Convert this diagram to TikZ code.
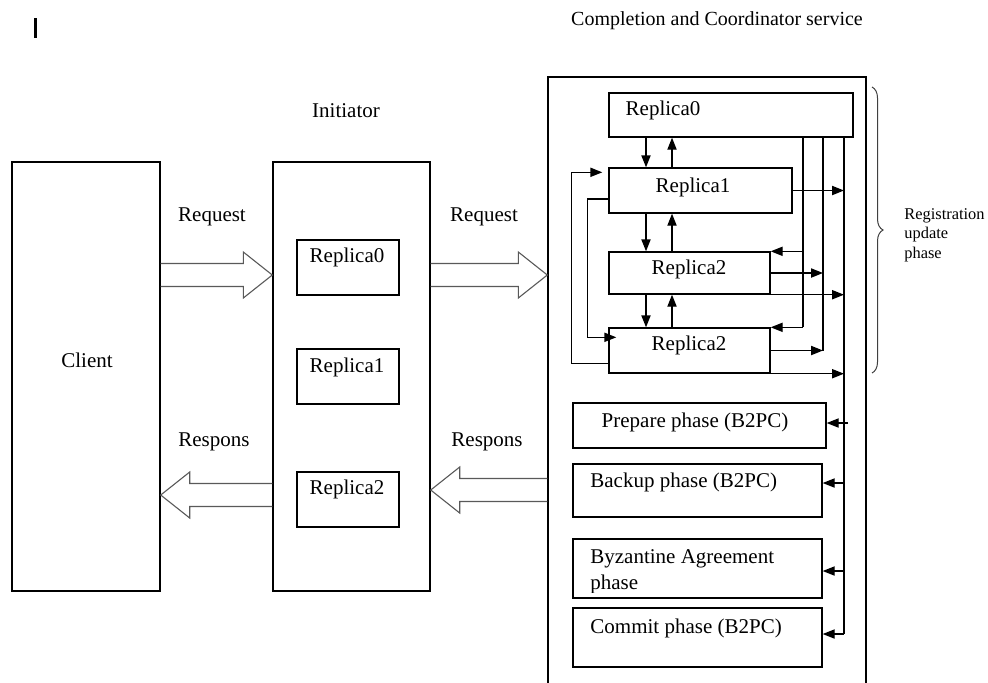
\documentclass[tikz,border=0pt]{standalone}
\usepackage{fontspec}
\setmainfont{Liberation Serif}
\usetikzlibrary{arrows.meta,calc,fit,decorations.pathreplacing}

% hollow block arrows: #1 = tail point, #2 = tip point
\newcommand\fatright[2]{%
  \draw[fat] ($(#1)+(0,-11.5)$) -- ($(#2)+(-29,-11.5)$) -- ($(#2)+(-29,-23)$)
    -- (#2) -- ($(#2)+(-29,23)$) -- ($(#2)+(-29,11.5)$) -- ($(#1)+(0,11.5)$);}
\newcommand\fatleft[2]{%
  \draw[fat] ($(#1)+(0,-11.5)$) -- ($(#2)+(29,-11.5)$) -- ($(#2)+(29,-23)$)
    -- (#2) -- ($(#2)+(29,23)$) -- ($(#2)+(29,11.5)$) -- ($(#1)+(0,11.5)$);}

\begin{document}
\begin{tikzpicture}[x=0.5pt,y=-0.5pt,
  box/.style={draw,line width=0.7pt,inner sep=0pt},
  lbl/.style={inner sep=0pt,font=\fontsize{10.5}{12.5}\selectfont},
  wire/.style={line width=0.7pt},
  arr/.style={wire,-{Triangle[length=6pt,width=4.6pt]}},
  fat/.style={draw=black!65,line width=0.55pt,line join=miter}]

\useasboundingbox (0,0) rectangle (988,682);
\clip (0,0) rectangle (988,682);

% stray mark
\draw[line width=1.5pt] (35,18) -- (35,38);

% client and initiator
\node[box, fit={(12,162) (160,591)}] (client) {};
\node[lbl] (clientL) at (87,360) {Client};
\node[box, fit={(273,162) (430,591)}] (init) {};
\node[lbl] (initL) at (346,111) {Initiator};
\node[box, fit={(297,240) (399,295)}] (ia) {};
\node[lbl] (iaL) at (347,257) {Replica0};
\node[box, fit={(297,349) (399,404)}] (ib) {};
\node[lbl] (ibL) at (347,367) {Replica1};
\node[box, fit={(297,472) (399,527)}] (ic) {};
\node[lbl] (icL) at (347,489) {Replica2};

% coordinator service
\node[box, fit={(548,77) (866,700)}] (coord) {};
\node[lbl,font=\fontsize{10}{12}\selectfont] (coordL) at (717,21) {Completion and Coordinator service};

\node[box, fit={(609,93) (853,137)}] (r0) {};
\node[lbl] (r0L) at (663,110) {Replica0};
\node[box, fit={(609,168) (792,213)}] (r1) {};
\node[lbl] (r1L) at (693,187) {Replica1};
\node[box, fit={(609,252) (770,294)}] (r2a) {};
\node[lbl] (r2aL) at (689,269) {Replica2};
\node[box, fit={(609,328) (770,373)}] (r2b) {};
\node[lbl] (r2bL) at (689,345) {Replica2};

\node[box, fit={(573,403) (826,448)}] (prep) {};
\node[lbl] (prepL) at (695,422) {Prepare phase (B2PC)};
\node[box, fit={(573,464) (822,517)}] (back) {};
\node[lbl,anchor=west] (backL) at (590,482) {Backup phase (B2PC)};
\node[box, fit={(573,539) (822,598)}] (byz) {};
\begin{scope}
  \clip (573,539) rectangle (822,592);
  \node[lbl,anchor=base west] (byzL1) at (590,563) {Byzantine Agreement};
  \node[lbl,anchor=base west] (byzL2) at (590,589) {phase};
\end{scope}
\node[box, fit={(573,608) (822,667)}] (commit) {};
\node[lbl,anchor=west] (commitL) at (590,628) {Commit phase (B2PC)};

% brace and its label
\draw[black!75,line width=0.5pt,decorate,decoration={brace,amplitude=5.5pt}] (872,87) -- (872,373);
\node[inner sep=0pt,anchor=west,align=left,font=\fontsize{8.2}{9.8}\selectfont] (regL) at (904,235)
  {Registration\\update\\phase};

% block arrows
\coordinate (yq) at (0,275);
\coordinate (yr1) at (0,495);
\coordinate (yr2) at (0,490);
\coordinate (q1a) at (client.east |- yq);
\coordinate (q1b) at (init.west |- yq);
\coordinate (q2a) at (init.east |- yq);
\coordinate (q2b) at (coord.west |- yq);
\coordinate (s1a) at (init.west |- yr1);
\coordinate (s1b) at (client.east |- yr1);
\coordinate (s2a) at (coord.west |- yr2);
\coordinate (s2b) at (init.east |- yr2);
\fatright{q1a}{q1b}
\fatright{q2a}{q2b}
\fatleft{s1a}{s1b}
\fatleft{s2a}{s2b}
\node[lbl] (rq1) at (212,217) {Request};
\node[lbl] (rq2) at (484,217) {Request};
\node[lbl] (rs1) at (214,442) {Respons};
\node[lbl] (rs2) at (487,442) {Respons};

% replica chain
\coordinate (cd) at (646,0);
\coordinate (cu) at (672,0);
\coordinate (b1) at (803,0);
\coordinate (b2) at (823,0);
\coordinate (b3) at (844,0);
\draw[arr] (r0.south -| cd) -- (r1.north -| cd);
\draw[arr] (r1.north -| cu) -- (r0.south -| cu);
\draw[arr] (r1.south -| cd) -- (r2a.north -| cd);
\draw[arr] (r2a.north -| cu) -- (r1.south -| cu);
\draw[arr] (r2a.south -| cd) -- (r2b.north -| cd);
\draw[arr] (r2b.north -| cu) -- (r2a.south -| cu);

% buses on the right
\coordinate (cmE) at ([yshift=1.75pt]commit.east);
\draw[wire] (r0.south -| b1) -- (r2b.north -| b1);
\draw[wire] (r0.south -| b2) -- (r2b.east -| b2);
\draw[wire] (r0.south -| b3) -- (cmE -| b3);
\draw[arr] (r1.east) -- (r1.east -| b3);
\draw[arr] (r2a.north east -| b1) -- (r2a.north east);
\draw[arr] (r2a.east) -- (r2a.east -| b2);
\draw[arr] (r2a.south east) -- (r2a.south east -| b3);
\draw[arr] (r2b.north east -| b1) -- (r2b.north east);
\draw[arr] (r2b.east) -- (r2b.east -| b2);
\draw[arr] (r2b.south east) -- (r2b.south east -| b3);

% loops on the left
\draw[arr,shorten >=3pt] ([yshift=5pt]r2b.south west) -- ++(-37,0) |- ([yshift=-2.5pt]r1.north west);
\draw[arr,shorten >=-4pt] ([yshift=-4.25pt]r1.west) -- ++(-21,0) |- ([yshift=-5pt]r2b.north west);

% phase arrows
\coordinate (prE) at ([yshift=1.25pt]prep.east);
\coordinate (bkE) at ([yshift=3.75pt]back.east);
\coordinate (bzE) at ([yshift=-1.25pt]byz.east);
\draw[arr] ($(prE -| b3)+(4,0)$) -- (prE);
\draw[arr] (bkE -| b3) -- (bkE);
\draw[arr] (bzE -| b3) -- (bzE);
\draw[arr] (cmE -| b3) -- (cmE);
\end{tikzpicture}
\end{document}
